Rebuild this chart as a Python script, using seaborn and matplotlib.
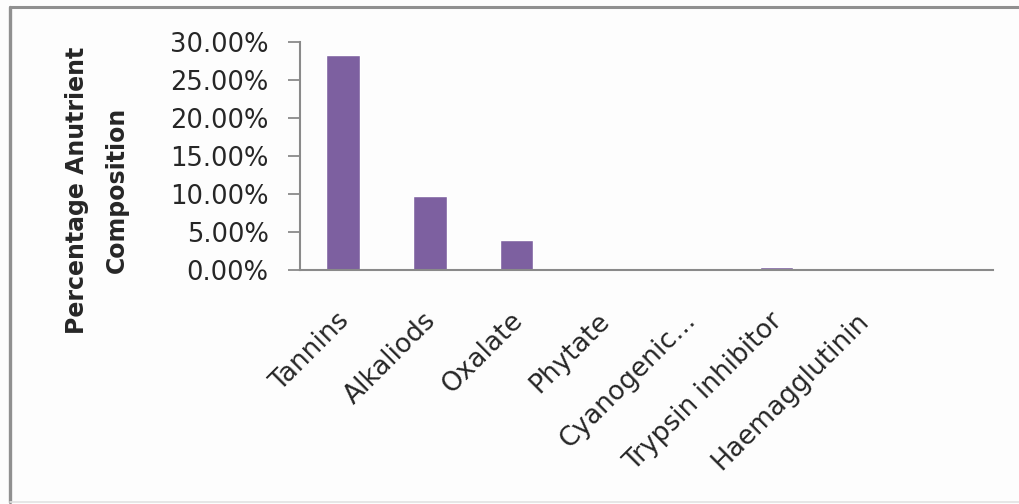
import matplotlib
matplotlib.use("Agg")
import matplotlib.pyplot as plt
from matplotlib.lines import Line2D
from matplotlib.ticker import FuncFormatter
from matplotlib.transforms import ScaledTranslation
import seaborn as sns
import pandas as pd

# Antinutrient fractions of the sample
categories = ["Tannins", "Alkaliods", "Oxalate", "Phytate",
              "Cyanogenic...", "Trypsin inhibitor", "Haemagglutinin"]
values = [0.283, 0.098, 0.039, 0.0, 0.0, 0.004, 0.0]
y_ticks = [0.0, 0.05, 0.10, 0.15, 0.20, 0.25, 0.30]

bar_color = "#7D60A0"
axis_color = "#8a8a8a"
text_color = "#262626"

sns.set_theme(style="white")
plt.rcParams["font.family"] = ["DejaVu Sans"]

W, H = 1020, 504
fig = plt.figure(figsize=(W / 100, H / 100), dpi=100, facecolor="#fdfdfd")
ax = fig.add_axes([300 / W, (H - 270) / H, (993 - 300) / W, (270 - 42) / H])
ax.set_facecolor("#fdfdfd")

df = pd.DataFrame({"category": categories, "value": values})
sns.barplot(data=df, x="category", y="value", order=categories,
            color=bar_color, saturation=1, width=0.39, ax=ax)

ax.set_xlim(-0.5, 7.5)
ax.set_ylim(0, 0.30)
ax.set_yticks(y_ticks)
ax.yaxis.set_major_formatter(FuncFormatter(lambda v, _: f"{v * 100:.2f}%"))
ax.set_xlabel("")
ax.set_ylabel("")

for side in ("top", "right"):
    ax.spines[side].set_visible(False)
for side in ("left", "bottom"):
    ax.spines[side].set_color(axis_color)
    ax.spines[side].set_linewidth(1.5)

ax.tick_params(axis="y", direction="out", length=8.5, width=1.3,
               color=axis_color, pad=14, labelsize=18.5, labelcolor=text_color,
               left=True)
ax.tick_params(axis="x", length=0, pad=27, labelsize=19, labelcolor=text_color)
shift = ScaledTranslation(-0.07, 0, fig.dpi_scale_trans)
for lbl in ax.get_xticklabels():
    lbl.set_rotation(45)
    lbl.set_ha("right")
    lbl.set_va("top")
    lbl.set_rotation_mode("anchor")
    lbl.set_transform(lbl.get_transform() + shift)

fig.text(97 / W, 1 - 190 / H, "Percentage Anutrient\nComposition",
         rotation=90, ha="center", va="center", multialignment="center",
         fontsize=17, fontweight="bold", color=text_color, linespacing=1.85)

# chart-area border
fig.add_artist(Line2D([10 / W, 10 / W], [1 - 7 / H, 1 - 502 / H],
                      transform=fig.transFigure, color="#909090", lw=2.4))
fig.add_artist(Line2D([10 / W, 1.0], [1 - 7 / H, 1 - 7 / H],
                      transform=fig.transFigure, color="#909090", lw=2.2))
fig.add_artist(Line2D([10 / W, 1.0], [1 - 502 / H, 1 - 502 / H],
                      transform=fig.transFigure, color="#e2e2e2", lw=1.2))

fig.savefig("out.png", dpi=100, facecolor=fig.get_facecolor())
